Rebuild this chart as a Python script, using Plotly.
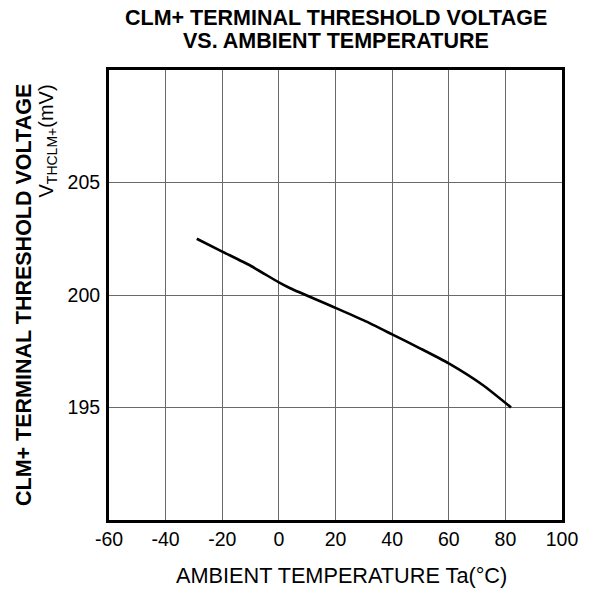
import plotly.graph_objects as go

temp_c = [-29, -20, -10, 0, 4, 20, 30, 40, 50, 60, 72, 82]
vth_mv = [202.5, 201.93, 201.3, 200.56, 200.3, 199.43, 198.87, 198.25, 197.62, 196.96, 196.0, 195.0]

x_ticks = [-60, -40, -20, 0, 20, 40, 60, 80, 100]
y_ticks = [195, 200, 205]

FONT = "Liberation Sans, Arial, sans-serif"

fig = go.Figure()
fig.add_trace(go.Scatter(x=temp_c, y=vth_mv, mode="lines",
                         line=dict(color="black", width=2.6, shape="spline", smoothing=0.6),
                         showlegend=False, hoverinfo="skip"))

fig.update_layout(
    width=590, height=589,
    margin=dict(l=109, r=28, t=70, b=69),
    paper_bgcolor="white", plot_bgcolor="white",
    font=dict(family=FONT, color="black"),
    xaxis=dict(range=[-60, 100], tickvals=x_ticks, ticktext=[str(v) for v in x_ticks],
               showgrid=True, gridcolor="#6a6a6a", gridwidth=1,
               showline=True, linecolor="black", linewidth=3, mirror=True,
               zeroline=False, ticks="", tickfont=dict(size=19.5, family=FONT),
               ticklabelstandoff=0, fixedrange=True),
    yaxis=dict(range=[190, 210], tickvals=y_ticks, ticktext=[str(v) for v in y_ticks],
               showgrid=True, gridcolor="#6a6a6a", gridwidth=1,
               showline=True, linecolor="black", linewidth=3, mirror=True,
               zeroline=False, ticks="", tickfont=dict(size=19.5, family=FONT),
               ticklabelstandoff=2, fixedrange=True),
)

# Title (two lines, tight spacing)
fig.add_annotation(xref="paper", yref="paper", x=0.5, y=1, xanchor="center", yanchor="middle",
                   yshift=52, showarrow=False,
                   text="<b>CLM+ TERMINAL THRESHOLD VOLTAGE</b>",
                   font=dict(size=21.5, family=FONT))
fig.add_annotation(xref="paper", yref="paper", x=0.5, y=1, xanchor="center", yanchor="middle",
                   yshift=29, showarrow=False,
                   text="<b>VS. AMBIENT TEMPERATURE</b>",
                   font=dict(size=21.5, family=FONT))

# X axis title
fig.add_annotation(xref="paper", yref="paper", x=0.5, y=0, xanchor="center", yanchor="top",
                   yshift=-41, xshift=6, showarrow=False,
                   text="AMBIENT TEMPERATURE Ta(°C)", font=dict(size=21.7, family=FONT))

# Y axis title line 1
fig.add_annotation(xref="paper", yref="paper", x=0, y=0.5, xanchor="center", yanchor="middle",
                   xshift=-85, showarrow=False, textangle=-90,
                   text="<b>CLM+ TERMINAL THRESHOLD VOLTAGE</b>", font=dict(size=21.5, family=FONT))

# Y axis title line 2
fig.add_annotation(xref="paper", yref="paper", x=0, y=1, xanchor="center", yanchor="top",
                   xshift=-62, yshift=-13, showarrow=False, textangle=-90,
                   text="V<sub>THCLM+</sub>(mV)", font=dict(size=20, family=FONT))

fig.write_html("out.html", config={"displayModeBar": False},
               post_script="document.body.style.margin='0';document.body.style.padding='0';")
